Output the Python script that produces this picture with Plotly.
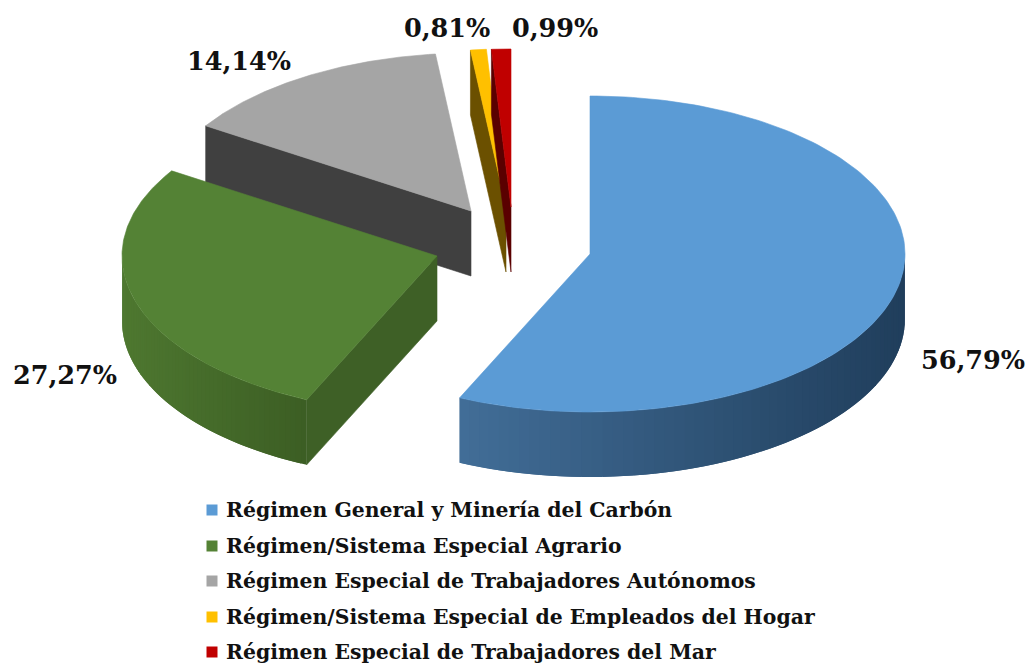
import numpy as np
import plotly.graph_objects as go

categories = ["Régimen General y Minería del Carbón",
              "Régimen/Sistema Especial Agrario",
              "Régimen Especial de Trabajadores Autónomos",
              "Régimen/Sistema Especial de Empleados del Hogar",
              "Régimen Especial de Trabajadores del Mar"]
shares = [56.79, 27.27, 14.14, 0.81, 0.99]
labels = ["56,79%", "27,27%", "14,14%", "0,81%", "0,99%"]

top_colors = ["#5b9bd5", "#548235", "#a5a5a5", "#ffc000", "#c00000"]
face_colors = ["#2f5478", "#3e6026", "#404040", "#6b5000", "#5a0000"]
wall_from = [(66, 110, 152), (78, 120, 48), (64, 64, 64), (107, 80, 0), (90, 0, 0)]
wall_to = [(32, 62, 92), (60, 94, 36), (64, 64, 64), (107, 80, 0), (90, 0, 0)]

centers = [(590, 254), (437, 256), (471, 211), (506, 207), (511, 207)]
label_pos = [(973, 360), (65, 375), (239, 61), (447, 28), (555, 28)]
legend_rows = [510, 546, 581, 617, 652]
LEG_X, LEG_TEXT_X = 212, 225
RX, RY, DEPTH = 315, 158, 65
FONT = "DejaVu Serif"

edges = np.concatenate([[0], np.cumsum(shares) / sum(shares) * 360])


def px(c, deg):
    t = np.radians(deg)
    return c[0] + RX * np.sin(t), c[1] - RY * np.cos(t)


def poly(fig, xs, ys, color, lw=0.6):
    fig.add_trace(go.Scatter(x=list(xs), y=list(ys), mode="lines", fill="toself",
                             fillcolor=color, line=dict(color=color, width=lw),
                             showlegend=False, hoverinfo="skip"))


fig = go.Figure()
order = [3, 4, 2, 1, 0]
for i in order:
    c, a0, a1 = centers[i], edges[i], edges[i + 1]
    # radial cut face, seen when it looks towards the viewer
    if 180 <= a0 < 360:
        x0, y0 = px(c, a0)
        poly(fig, [c[0], x0, x0, c[0], c[0]],
             [c[1], y0, y0 + DEPTH, c[1] + DEPTH, c[1]], face_colors[i])
    # outer wall in gradient strips, each overlapping the next one
    lo, hi = max(a0, 90), min(a1, 270)
    if hi > lo:
        steps = np.linspace(lo, hi, 61)
        xa, _ = px(c, steps)
        xmin, xmax = xa.min(), xa.max()
        for k in range(60):
            tt = np.linspace(steps[k], steps[min(k + 2, 60)], 5)
            x, y = px(c, tt)
            f = (px(c, steps[k])[0] - xmin) / max(xmax - xmin, 1)
            col = "rgb(%d,%d,%d)" % tuple(
                round(p + (q - p) * f) for p, q in zip(wall_from[i], wall_to[i]))
            poly(fig, list(x) + list(x[::-1]) + [x[0]],
                 list(y) + list(y[::-1] + DEPTH) + [y[0]], col, 0)
    # top
    tt = np.linspace(a0, a1, 160)
    x, y = px(c, tt)
    poly(fig, [c[0]] + list(x) + [c[0]], [c[1]] + list(y) + [c[1]], top_colors[i])

for name, col, row in zip(categories, top_colors, legend_rows):
    fig.add_trace(go.Scatter(x=[LEG_X], y=[row], mode="markers", name=name, showlegend=False,
                             hoverinfo="name",
                             marker=dict(symbol="square", size=11, color=col)))
    fig.add_annotation(x=LEG_TEXT_X, y=row, text=f"<b>{name}</b>", showarrow=False,
                       xanchor="left", borderpad=0,
                       font=dict(family=FONT, size=20.4, color="#111111"))

for lab, (x, y) in zip(labels, label_pos):
    fig.add_annotation(x=x, y=y, text=f"<b>{lab}</b>", showarrow=False,
                       font=dict(family=FONT, size=25.5, color="#111111"))

fig.update_layout(
    width=1029, height=664, margin=dict(l=0, r=0, t=0, b=0),
    paper_bgcolor="white", plot_bgcolor="white", showlegend=False,
    xaxis=dict(range=[0, 1029], visible=False, fixedrange=True),
    yaxis=dict(range=[664, 0], visible=False, fixedrange=True),
)
fig.write_html("out.html", config={"displayModeBar": False},
               post_script="document.body.style.margin='0';document.body.style.overflow='hidden';")
